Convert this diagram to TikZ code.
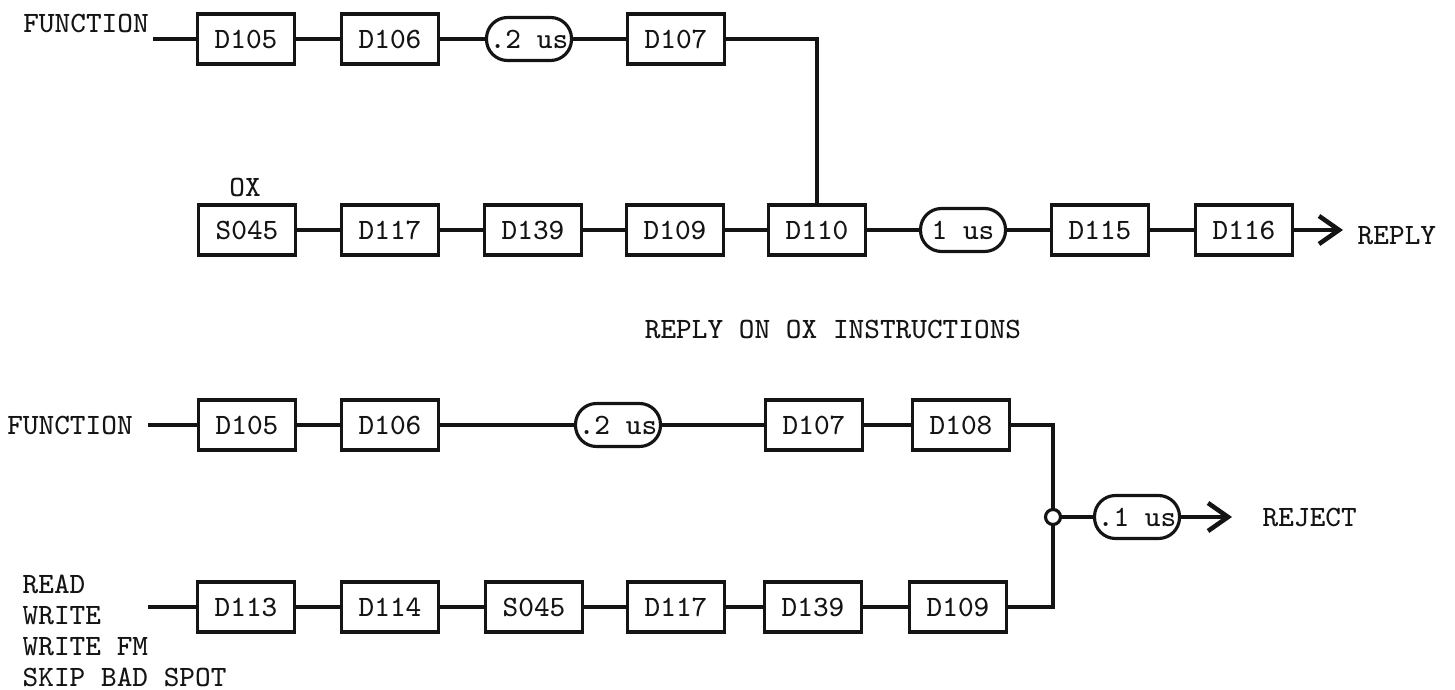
\documentclass[tikz,border=0pt]{standalone}
\usepackage{tikz}
\usetikzlibrary{positioning,arrows.meta}
\definecolor{scanink}{HTML}{141414}

\begin{document}
\begin{tikzpicture}[x=1cm,y=1cm,
  blk/.style={draw=scanink,line width=0.9pt,minimum width=0.97cm,minimum height=0.50cm,inner sep=0pt,font=\ttfamily\fontsize{8.4}{10}\selectfont,text=scanink},
  dly/.style={draw=scanink,line width=0.9pt,rounded corners=2.1mm,minimum width=0.85cm,minimum height=0.43cm,inner sep=0pt,font=\ttfamily\fontsize{8.4}{10}\selectfont,text=scanink},
  lbl/.style={font=\ttfamily\fontsize{8.4}{8.8}\selectfont,text=scanink,inner sep=0pt},
  wire/.style={draw=scanink,line width=0.9pt},
  outwire/.style={wire,-{Straight Barb[length=2mm,width=2.8mm,line width=1.3pt]}}]
\useasboundingbox (0,0) rectangle (14.55,6.90);
% top row: function into OX reply
\node[lbl] (tFn) at (0.86,6.67) {FUNCTION};
\coordinate (tIn) at (1.53,6.51);
\node[blk] (tD105) at (2.46,6.51) {D105};
\node[blk] (tD106) at (3.90,6.51) {D106};
\node[dly] (tDly) at (5.29,6.51) {.2 us};
\node[blk] (tD107) at (6.76,6.51) {D107};
\draw[wire] (tIn) -- (tD105);
\draw[wire] (tD105) -- (tD106);
\draw[wire] (tD106) -- (tDly);
\draw[wire] (tDly) -- (tD107);
% OX chain
\node[lbl] (mOx) at (2.45,5.03) {OX};
\node[blk] (mS045) at (2.47,4.60) {S045};
\node[blk] (mD117) at (3.90,4.60) {D117};
\node[blk] (mD139) at (5.33,4.60) {D139};
\node[blk] (mD109) at (6.75,4.60) {D109};
\node[blk] (mD110) at (8.17,4.60) {D110};
\node[dly] (mDly) at (9.63,4.60) {1 us};
\node[blk] (mD115) at (11.00,4.60) {D115};
\node[blk] (mD116) at (12.44,4.60) {D116};
\coordinate (mOut) at (13.43,4.60);
\node[lbl,anchor=west] (mReply) at (13.57,4.54) {REPLY};
\draw[wire] (mS045) -- (mD117);
\draw[wire] (mD117) -- (mD139);
\draw[wire] (mD139) -- (mD109);
\draw[wire] (mD109) -- (mD110);
\draw[wire] (mD110) -- (mDly);
\draw[wire] (mDly) -- (mD115);
\draw[wire] (mD115) -- (mD116);
\draw[outwire] (mD116) -- (mOut);
\draw[wire] (tD107.east) -| (mD110.north);
\node[lbl] (cap) at (8.33,3.61) {REPLY ON OX INSTRUCTIONS};
% reject: function row
\node[lbl] (fFn) at (0.70,2.65) {FUNCTION};
\coordinate (fIn) at (1.48,2.65);
\node[blk] (fD105) at (2.47,2.65) {D105};
\node[blk] (fD106) at (3.90,2.65) {D106};
\node[dly] (fDly) at (6.18,2.65) {.2 us};
\node[blk] (fD107) at (8.14,2.65) {D107};
\node[blk] (fD108) at (9.61,2.65) {D108};
\draw[wire] (fIn) -- (fD105);
\draw[wire] (fD105) -- (fD106);
\draw[wire] (fD106) -- (fDly);
\draw[wire] (fDly) -- (fD107);
\draw[wire] (fD107) -- (fD108);
% reject: read/write row
\node[lbl,anchor=west,align=left] (rSrc) at (0.22,0.59) {READ\\WRITE\\WRITE FM\\SKIP BAD SPOT};
\coordinate (rIn) at (1.48,0.83);
\node[blk] (rD113) at (2.46,0.83) {D113};
\node[blk] (rD114) at (3.90,0.83) {D114};
\node[blk] (rS045) at (5.34,0.83) {S045};
\node[blk] (rD117) at (6.76,0.83) {D117};
\node[blk] (rD139) at (8.13,0.83) {D139};
\node[blk] (rD109) at (9.58,0.83) {D109};
\draw[wire] (rIn) -- (rD113);
\draw[wire] (rD113) -- (rD114);
\draw[wire] (rD114) -- (rS045);
\draw[wire] (rS045) -- (rD117);
\draw[wire] (rD117) -- (rD139);
\draw[wire] (rD139) -- (rD109);
% merge into reject
\node[circle,draw=scanink,fill=white,line width=0.9pt,minimum size=0.15cm,inner sep=0pt] (jn) at (10.53,1.73) {};
\node[dly] (jDly) at (11.37,1.73) {.1 us};
\coordinate (jOut) at (12.32,1.73);
\node[lbl,anchor=west] (jRej) at (12.62,1.73) {REJECT};
\draw[wire] (fD108.east) -| (jn.north);
\draw[wire] (rD109.east) -| (jn.south);
\draw[wire] (jn) -- (jDly);
\draw[outwire] (jDly) -- (jOut);
\end{tikzpicture}
\end{document}
